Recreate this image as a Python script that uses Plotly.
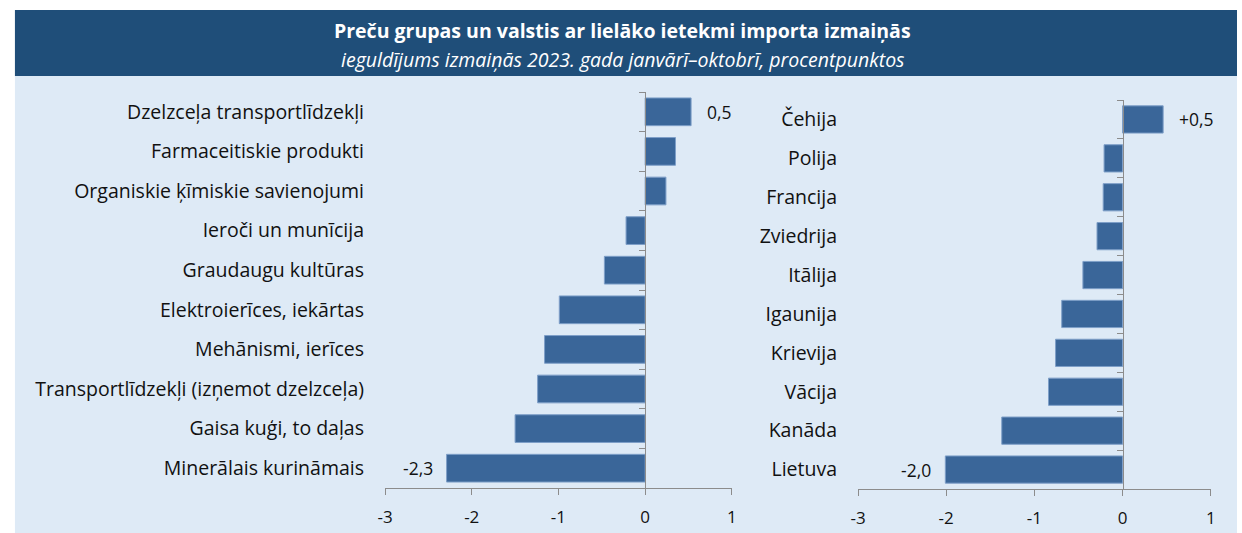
import plotly.graph_objects as go

# ---- data ----
goods = ["Dzelzceļa transportlīdzekļi", "Farmaceitiskie produkti", "Organiskie ķīmiskie savienojumi",
         "Ieroči un munīcija", "Graudaugu kultūras", "Elektroierīces, iekārtas", "Mehānismi, ierīces",
         "Transportlīdzekļi (izņemot dzelzceļa)", "Gaisa kuģi, to daļas", "Minerālais kurināmais"]
goods_vals = [0.53, 0.35, 0.24, -0.22, -0.47, -0.99, -1.16, -1.24, -1.50, -2.29]
goods_labels = ["0,5", "", "", "", "", "", "", "", "", "-2,3"]

countries = ["Čehija", "Polija", "Francija", "Zviedrija", "Itālija", "Igaunija", "Krievija",
             "Vācija", "Kanāda", "Lietuva"]
country_vals = [0.46, -0.21, -0.22, -0.29, -0.45, -0.69, -0.76, -0.84, -1.37, -2.01]
country_labels = ["+0,5", "", "", "", "", "", "", "", "", "-2,0"]

x_ticks = [-3, -2, -1, 0, 1]
x_range = [-3, 1]

title = "Preču grupas un valstis ar lielāko ietekmi importa izmaiņās"
subtitle = "ieguldījums izmaiņās 2023. gada janvārī–oktobrī, procentpunktos"

# ---- style ----
W, H = 1242, 533
FONT = "Open Sans"
BAR = "#3A6699"
BAR_LINE = "#7E9FC8"
AXIS = "#8C8C8C"
DARK = "#1F4E79"
LIGHT = "#DEEAF6"
TXT = "#111111"

dom_l = [381 / W, 731.5 / W]
dom_r = [859 / W, 1215.5 / W]
ydom_l = [1 - 488 / H, 1 - 92 / H]
ydom_r = [1 - 489 / H, 1 - 100 / H]


def zero_pos(dom):
    return dom[0] + (0 - x_range[0]) / (x_range[1] - x_range[0]) * (dom[1] - dom[0])


fig = go.Figure()

panels = [
    (goods, goods_vals, goods_labels, "x", "y", "y3"),
    (countries, country_vals, country_labels, "x2", "y2", "y4"),
]
for cats, vals, labels, xa, ya, yo in panels:
    fig.add_trace(go.Bar(x=vals, y=cats, orientation="h", xaxis=xa, yaxis=ya,
                         marker=dict(color=BAR, line=dict(color=BAR_LINE, width=1)),
                         width=0.7, hoverinfo="skip", showlegend=False))
    fig.add_trace(go.Scatter(x=[0] * len(cats), y=cats, xaxis=xa, yaxis=yo, mode="markers",
                             marker=dict(opacity=0), hoverinfo="skip", showlegend=False))
    for c, v, t in zip(cats, vals, labels):
        if t:
            fig.add_annotation(x=v, y=c, xref=xa, yref=ya, text=t, showarrow=False,
                               xanchor="left" if v > 0 else "right",
                               xshift=14 if v > 0 else -12,
                               font=dict(family=FONT, size=17.5, color=TXT))

xcommon = dict(range=x_range, tickvals=x_ticks, ticktext=[str(t) for t in x_ticks],
               showgrid=False, zeroline=False, showline=True, linecolor=AXIS, linewidth=1,
               ticks="outside", ticklen=6, tickcolor=AXIS, tickwidth=1, ticklabelstandoff=8,
               tickfont=dict(family=FONT, size=17, color=TXT), fixedrange=True)
ylab = dict(type="category", range=[9.5, -0.5], showgrid=False, zeroline=False, showline=False,
            ticks="", tickfont=dict(family=FONT, size=19.5, color=TXT), ticklabelstandoff=20)
yline = dict(type="category", range=[9.5, -0.5], showgrid=False, zeroline=False, showline=True,
             linecolor=AXIS, linewidth=1, ticks="outside", ticklen=6, tickcolor=AXIS,
             tickson="boundaries", showticklabels=False, anchor="free")

fig.update_layout(
    width=W, height=H, margin=dict(l=0, r=0, t=0, b=0),
    paper_bgcolor="white", plot_bgcolor="rgba(0,0,0,0)", bargap=0.3,
    xaxis=dict(domain=dom_l, anchor="y", **xcommon),
    xaxis2=dict(domain=dom_r, anchor="y2", **xcommon),
    yaxis=dict(domain=ydom_l, anchor="x", categoryarray=goods, **ylab),
    yaxis2=dict(domain=ydom_r, anchor="x2", categoryarray=countries, **ylab),
    yaxis3=dict(domain=ydom_l, overlaying="y", position=zero_pos(dom_l), categoryarray=goods, **yline),
    yaxis4=dict(domain=ydom_r, overlaying="y2", position=zero_pos(dom_r), categoryarray=countries, **yline),
    shapes=[
        dict(type="rect", xref="paper", yref="paper", x0=7 / W, x1=1, y0=1 - 76 / H, y1=1 - 10 / H,
             fillcolor=DARK, line=dict(width=0), layer="below"),
        dict(type="rect", xref="paper", yref="paper", x0=7 / W, x1=1, y0=0, y1=1 - 76 / H,
             fillcolor=LIGHT, line=dict(width=0), layer="below"),
    ],
)
fig.add_annotation(x=0.5, y=1 - 31 / H, xref="paper", yref="paper", text="<b>" + title + "</b>",
                   showarrow=False, yanchor="middle", xanchor="center",
                   font=dict(family=FONT, size=19.5, color="white"))
fig.add_annotation(x=0.5, y=1 - 59 / H, xref="paper", yref="paper", text="<i>" + subtitle + "</i>",
                   showarrow=False, yanchor="middle", xanchor="center",
                   font=dict(family=FONT, size=19.5, color="white"))

fig.write_html("out.html", config={"displayModeBar": False},
               post_script="document.body.style.margin='0';document.body.style.overflow='hidden';")
